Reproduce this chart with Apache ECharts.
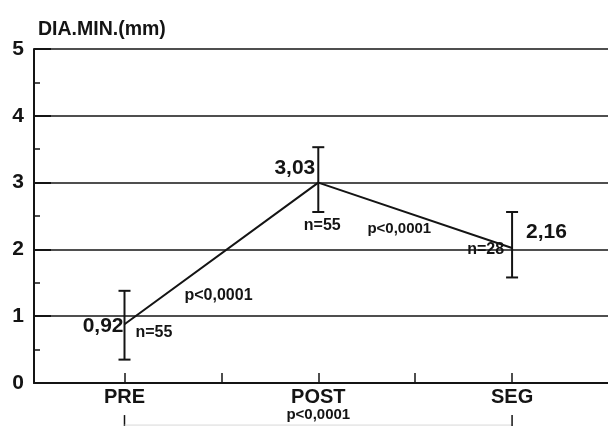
<!DOCTYPE html>
<html>
<head>
<meta charset="utf-8">
<script src="https://cdn.jsdelivr.net/npm/echarts@6/dist/echarts.min.js"></script>
<style>html,body{margin:0;padding:0;background:#fff}#c{width:608px;height:426px}</style>
</head>
<body>
<div id="c"></div>
<script>
const categories = ['PRE', 'POST', 'SEG'];
const xPos = [1, 2, 3];
const means = [0.88, 3.0, 2.02];
const upper = [1.38, 3.53, 2.56];
const lower = [0.35, 2.56, 1.58];
const meanLabels = ['0,92', '3,03', '2,16'];
const nLabels = ['n=55', 'n=55', 'n=28'];
const pLabels = ['p<0,0001', 'p<0,0001'];
const pOverall = 'p<0,0001';
const xTicks = [1, 1.5, 2, 2.5, 3];
const bracketEnds = [1, 3];
const bracketY = [-0.48, -0.7];

const FONT = '"Liberation Sans", Arial, sans-serif';
const INK = '#141414';

const chart = echarts.init(document.getElementById('c'), null, {renderer: 'canvas'});

const meanLabelStyle = [
  {align: 'right', offset: [-1, 2], size: 21},
  {align: 'right', offset: [-3, -14], size: 21},
  {align: 'left', offset: [14, -16], size: 21}
];
const nLabelStyle = [
  {align: 'left', offset: [11, 8], size: 16},
  {align: 'center', offset: [4, 43], size: 16},
  {align: 'right', offset: [-8, 2], size: 16}
];
const pLabelStyle = [
  {align: 'center', offset: [94, -29], size: 16},
  {align: 'center', offset: [81, 46], size: 15}
];

function labelPoints(texts, styles, prefix) {
  return texts.map((t, i) => ({
    value: [xPos[i], means[i]],
    name: prefix + i,
    label: {
      show: true, position: 'inside', formatter: t,
      align: styles[i].align, verticalAlign: 'middle', offset: styles[i].offset,
      fontSize: styles[i].size, fontWeight: 'bold', fontFamily: FONT, color: INK, opacity: 1
    }
  }));
}

const option = {
  animation: false,
  backgroundColor: '#fff',
  title: {
    text: 'DIA.MIN.(mm)', left: 33, top: 15,
    textStyle: {fontSize: 19.5, fontWeight: 'bold', fontFamily: FONT, color: INK, lineHeight: 20}
  },
  grid: {left: 34, right: 0, top: 49, bottom: 43, containLabel: false},
  xAxis: {
    type: 'value', min: 0.533, max: 3.495,
    axisLine: {show: true, lineStyle: {color: INK, width: 2}},
    axisTick: {show: true, inside: true, length: 10, customValues: xTicks, lineStyle: {color: INK, width: 1.5}},
    axisLabel: {
      show: true, customValues: xPos, margin: 4,
      formatter: function (v) {
        const i = xPos.indexOf(v);
        if (i < 0) return '';
        return i === 1 ? '{a|' + categories[i] + '}\n{b|' + pOverall + '}' : '{a|' + categories[i] + '}';
      },
      rich: {
        a: {fontSize: 20, fontWeight: 'bold', fontFamily: FONT, color: INK, lineHeight: 20},
        b: {fontSize: 15, fontWeight: 'bold', fontFamily: FONT, color: INK, lineHeight: 16}
      }
    },
    splitLine: {show: false}
  },
  yAxis: {
    type: 'value', min: 0, max: 5, interval: 1,
    axisLine: {show: true, lineStyle: {color: INK, width: 2}},
    axisTick: {show: true, inside: true, length: 17, lineStyle: {color: INK, width: 2}},
    minorTick: {show: true, splitNumber: 2, length: 6, lineStyle: {color: INK, width: 1.5}},
    axisLabel: {margin: 10, fontSize: 21, fontWeight: 'bold', fontFamily: FONT, color: INK},
    splitLine: {show: true, lineStyle: {color: INK, width: 1.5}}
  },
  series: [
    {
      type: 'line', data: xPos.map((x, i) => [x, means[i]]),
      symbol: 'none', lineStyle: {color: INK, width: 2}, z: 3
    },
    {
      type: 'custom', z: 4,
      data: xPos.map((x, i) => [x, lower[i], upper[i]]),
      renderItem: function (params, api) {
        const lo = api.coord([api.value(0), api.value(1)]);
        const hi = api.coord([api.value(0), api.value(2)]);
        const hw = 6;
        const style = {stroke: INK, lineWidth: 2};
        return {type: 'group', children: [
          {type: 'line', shape: {x1: hi[0], y1: hi[1], x2: lo[0], y2: lo[1]}, style: style},
          {type: 'line', shape: {x1: hi[0] - hw, y1: hi[1], x2: hi[0] + hw, y2: hi[1]}, style: style},
          {type: 'line', shape: {x1: lo[0] - hw, y1: lo[1], x2: lo[0] + hw, y2: lo[1]}, style: style}
        ]};
      }
    },
    {
      type: 'custom', z: 2, clip: false,
      data: bracketEnds.map(x => [x, bracketY[0], bracketY[1]]),
      renderItem: function (params, api) {
        const top = api.coord([api.value(0), api.value(1)]);
        const bot = api.coord([api.value(0), api.value(2)]);
        const children = [
          {type: 'line', shape: {x1: top[0], y1: top[1], x2: bot[0], y2: bot[1]}, style: {stroke: INK, lineWidth: 1.5}}
        ];
        if (params.dataIndex === 0) {
          const end = api.coord([bracketEnds[1], bracketY[0]]);
          const yy = top[1] + 10;
          children.push({type: 'line', shape: {x1: top[0], y1: yy, x2: end[0], y2: yy}, style: {stroke: '#d8d8d8', lineWidth: 1}});
        }
        return {type: 'group', children: children};
      }
    },
    {
      type: 'scatter', symbolSize: 0, z: 5, silent: true, itemStyle: {opacity: 1},
      data: labelPoints(meanLabels, meanLabelStyle, 'm')
    },
    {
      type: 'scatter', symbolSize: 0, z: 5, silent: true, itemStyle: {opacity: 1},
      data: labelPoints(nLabels, nLabelStyle, 'n')
    },
    {
      type: 'scatter', symbolSize: 0, z: 5, silent: true, itemStyle: {opacity: 1},
      data: labelPoints(pLabels, pLabelStyle, 'p')
    }
  ]
};
chart.setOption(option);
</script>
</body>
</html>
